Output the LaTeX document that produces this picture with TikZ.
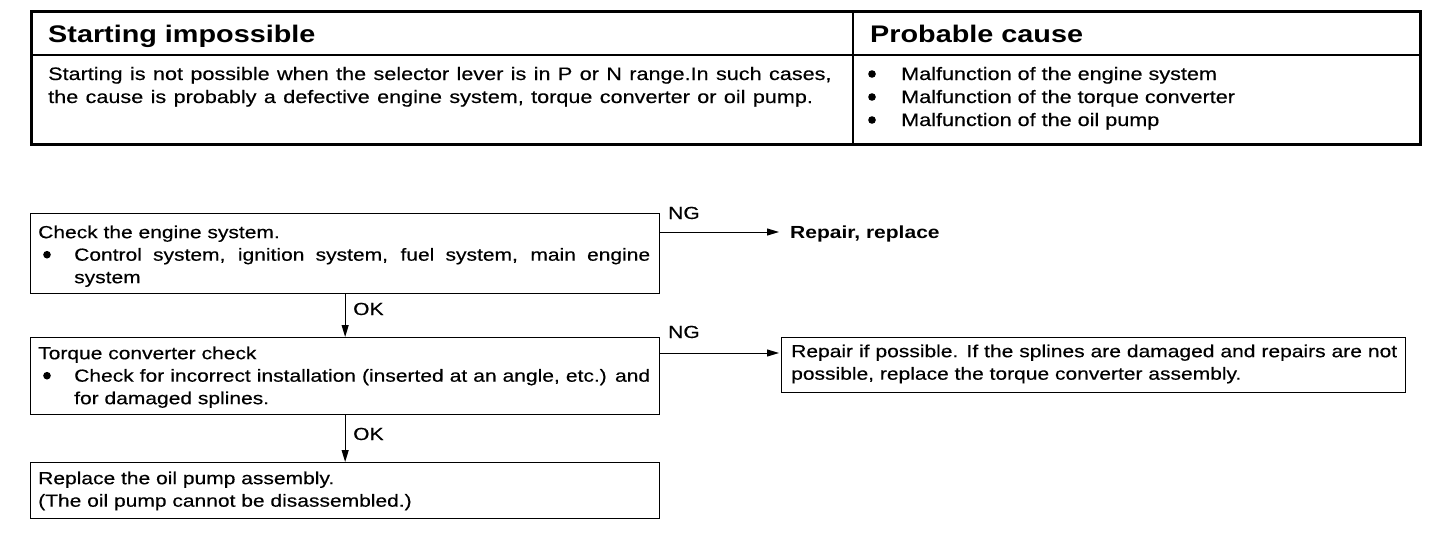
\documentclass[tikz,border=0pt]{standalone}
\usepackage{fontspec}
\setmainfont{Liberation Sans}[FakeStretch=1.2, UprightFeatures={FakeBold=0.4}]
\usetikzlibrary{arrows.meta,calc}
\newcommand{\bigbul}{\raisebox{2.2pt}{\tikz\fill (0pt,0pt) circle[radius=3.8pt];}}
\newcommand{\widesp}{\spaceskip=7.4pt plus 1pt minus 1pt\relax}
\begin{document}
\begin{tikzpicture}[x=1pt,y=-1pt,
  hdr/.style={inner sep=0pt, anchor=base west, font=\fontsize{24}{28}\selectfont\bfseries},
  tbtxt/.style={inner sep=0pt, anchor=base west, font=\fontsize{18}{23}\selectfont},
  fbox/.style={draw, line width=1.3pt, inner sep=0pt, anchor=north west},
  ftxt/.style={inner sep=0pt, anchor=north west, align=justify, font=\fontsize{17.5}{22.5}\selectfont},
  lbl/.style={inner sep=0pt, anchor=base west, font=\fontsize{17.5}{22.5}\selectfont},
  arr/.style={line width=1pt, -{Triangle[length=12pt,width=7pt]}}]
\useasboundingbox (0,0) rectangle (1456,538);
% table
\node[draw, line width=3pt, inner sep=0pt, anchor=north west, minimum width=1389pt, minimum height=133pt] (tab) at (30,10) {};
\draw[line width=1.2pt] (tab.west |- 0,55) -- (tab.east |- 0,55);
\draw[line width=1.6pt] (tab.north -| 853,0) -- (tab.south -| 853,0);
\node[hdr] (h1) at (48,42) {Starting impossible};
\node[hdr] (h2) at (870,42) {Probable cause};
\node[tbtxt] (d1) at (48,80) {\widesp Starting is not possible when the selector lever is in P or N range.In such cases,};
\node[tbtxt] (d2) at (48,103) {\widesp the cause is probably a defective engine system, torque converter or oil pump.};
\node[tbtxt] (c1) at (868,80) {\makebox[33pt][l]{\bigbul}Malfunction of the engine system};
\node[tbtxt] (c2) at (868,103) {\makebox[33pt][l]{\bigbul}Malfunction of the torque converter};
\node[tbtxt] (c3) at (868,126) {\makebox[33pt][l]{\bigbul}Malfunction of the oil pump};
% flowchart boxes
\node[fbox, minimum width=629pt, minimum height=80pt] (b1) at (30,213) {};
\node[fbox, minimum width=629pt, minimum height=77pt] (b2) at (30,337) {};
\node[fbox, minimum width=624pt, minimum height=55pt] (b3) at (781,337) {};
\node[fbox, minimum width=629pt, minimum height=56pt] (b4) at (30,462) {};
% box texts
\node[ftxt, text width=612pt] (t1) at (38,222.25) {\strut Check the engine system.\par
\noindent\makebox[36pt][l]{\hspace{5pt}\bigbul}\parbox[t]{576pt}{\strut Control system, ignition system, fuel system, main engine\linebreak system}};
\node[ftxt, text width=612pt] (t2) at (38,343.25) {\strut Torque converter check\par
\noindent\makebox[36pt][l]{\hspace{5pt}\bigbul}\parbox[t]{576pt}{\strut Check for incorrect installation (inserted at an angle, etc.) and\linebreak for damaged splines.}};
\node[ftxt, text width=606pt] (t3) at (791,341.25) {\strut Repair if possible. If the splines are damaged and repairs are not\linebreak possible, replace the torque converter assembly.};
\node[ftxt, text width=612pt] (t4) at (38,468.25) {\strut Replace the oil pump assembly.\par
\noindent(The oil pump cannot be disassembled.)};
% results and labels
\node[lbl, font=\fontsize{17.5}{22.5}\selectfont\bfseries] (r1) at (790,238) {Repair, replace};
\node[lbl] (ng1) at (668,219) {NG};
\node[lbl] (ng2) at (668,338) {NG};
\node[lbl] (ok1) at (353,315) {OK};
\node[lbl] (ok2) at (353,440) {OK};
% connectors
\draw[arr] ([yshift=-19pt]b1.north east) -- ([yshift=-19pt,xshift=-11pt]b1.north east -| r1.west);
\draw[arr] ([yshift=-16pt]b2.north east) -- ([yshift=-16pt,xshift=-2pt]b2.north east -| b3.west);
\draw[arr] (b1.south) -- (b2.north);
\draw[arr] (b2.south) -- (b4.north);
\end{tikzpicture}
\end{document}
